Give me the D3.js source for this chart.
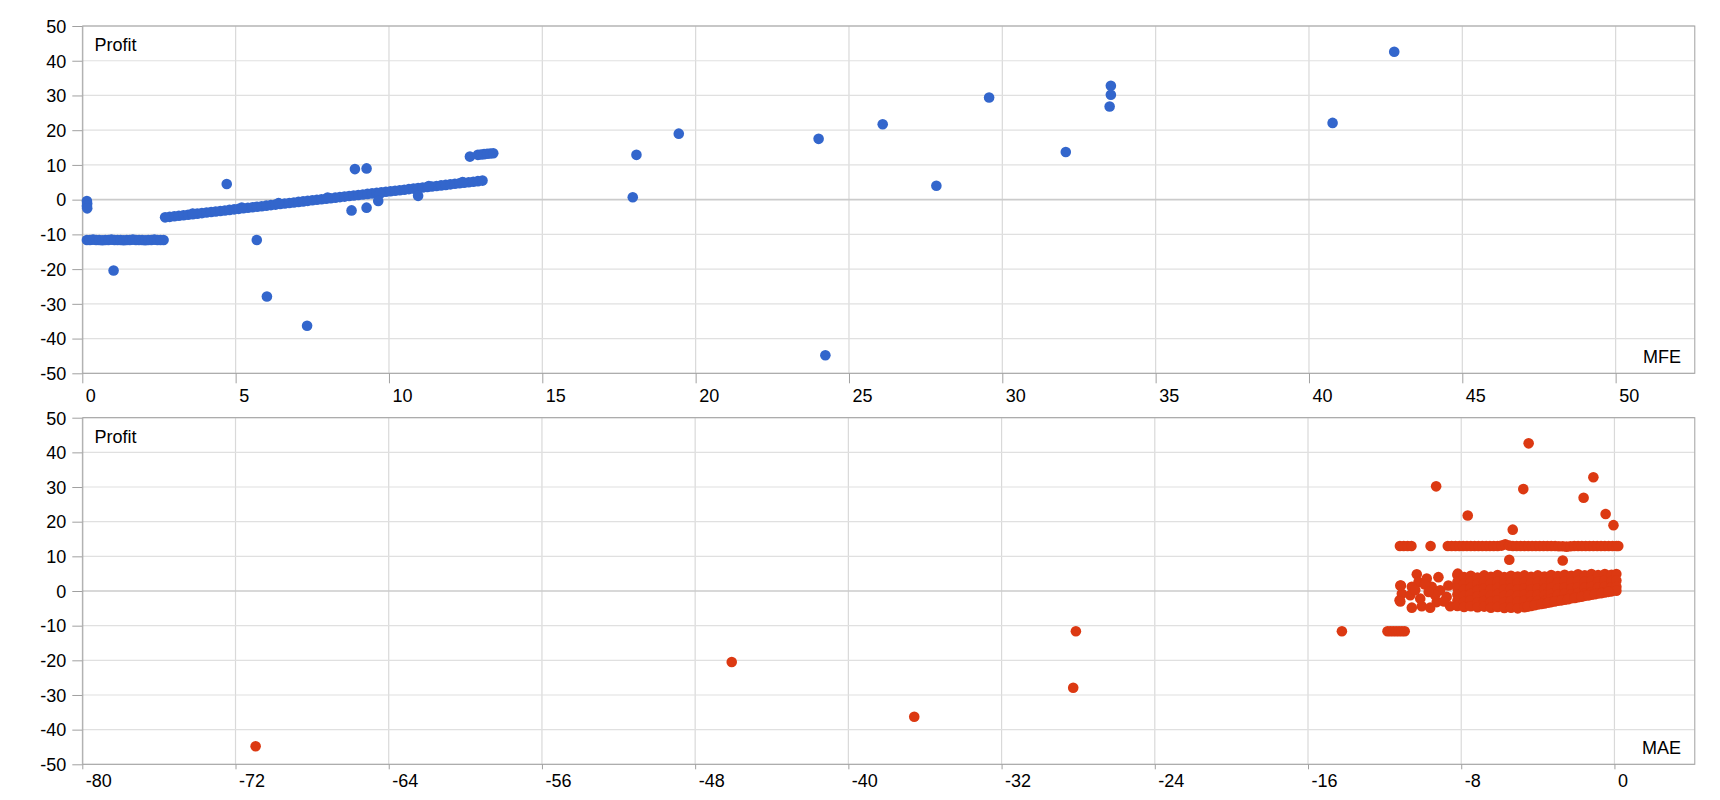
<!DOCTYPE html>
<html>
<head>
<meta charset="utf-8">
<script src="https://cdn.jsdelivr.net/npm/d3@7"></script>
<style>
  body { margin: 0; background: #fff; }
  .mfe-mae svg { display: block; }
  .mfe-mae text { font-family: "Liberation Sans", Arial, sans-serif; font-size: 18px; fill: #000; }
</style>
</head>
<body>
<div class="mfe-mae"></div>
<script>
'use strict';

var profitTicks = [-50, -40, -30, -20, -10, 0, 10, 20, 30, 40, 50];
var mfeTicks = [0, 5, 10, 15, 20, 25, 30, 35, 40, 45, 50];
var maeTicks = [-80, -72, -64, -56, -48, -40, -32, -24, -16, -8, 0];

// MFE vs profit (blue)
var mfeStopOuts = [[0.15, -11.6], [0.25, -11.6], [0.35, -11.5], [0.45, -11.6], [0.55, -11.6], [0.65, -11.7],
  [0.75, -11.6], [0.85, -11.6], [0.95, -11.5], [1.05, -11.6], [1.15, -11.6], [1.25, -11.6], [1.35, -11.7],
  [1.45, -11.6], [1.55, -11.6], [1.65, -11.5], [1.75, -11.6], [1.85, -11.6], [1.95, -11.6], [2.05, -11.7],
  [2.15, -11.6], [2.25, -11.6], [2.35, -11.5], [2.45, -11.6], [2.55, -11.6], [2.65, -11.6]];
var mfeNearEntry = [[0.15, -0.4], [0.16, -1.1], [0.15, -1.8], [0.16, -2.5]];
var mfeTrailing = [[2.70, -5.10], [2.85, -4.95], [3.00, -4.79], [3.15, -4.64], [3.30, -4.49], [3.45, -4.33],
  [3.60, -4.18], [3.75, -4.03], [3.90, -3.87], [4.05, -3.72], [4.20, -3.57], [4.35, -3.41], [4.50, -3.26],
  [4.65, -3.11], [4.80, -2.95], [4.95, -2.80], [5.10, -2.65], [5.25, -2.49], [5.40, -2.34], [5.55, -2.19],
  [5.70, -2.03], [5.85, -1.88], [6.00, -1.73], [6.15, -1.57], [6.30, -1.42], [6.45, -1.27], [6.60, -1.11],
  [6.75, -0.96], [6.90, -0.81], [7.05, -0.65], [7.20, -0.50], [7.35, -0.35], [7.50, -0.19], [7.65, -0.04],
  [7.80, 0.11], [7.95, 0.27], [8.10, 0.42], [8.25, 0.57], [8.40, 0.73], [8.55, 0.88], [8.70, 1.03],
  [8.85, 1.19], [9.00, 1.34], [9.15, 1.49], [9.30, 1.65], [9.45, 1.80], [9.60, 1.95], [9.75, 2.11],
  [9.90, 2.26], [10.05, 2.41], [10.20, 2.57], [10.35, 2.72], [10.50, 2.87], [10.65, 3.03], [10.80, 3.18],
  [10.95, 3.33], [11.10, 3.48], [11.25, 3.64], [11.40, 3.79], [11.55, 3.94], [11.70, 4.10], [11.85, 4.25],
  [12.00, 4.40], [12.15, 4.56], [12.30, 4.71], [12.45, 4.86], [12.60, 5.02], [12.75, 5.17], [12.90, 5.32],
  [13.05, 5.48], [3.60, -4.0], [5.20, -2.3], [6.40, -1.0], [8.00, 0.6], [9.70, 1.7], [11.30, 3.9], [12.40, 5.1]];
var mfeTargets = [[12.64, 12.4], [12.9, 12.9], [13.0, 13.0], [13.1, 13.1], [13.2, 13.2], [13.3, 13.3], [13.4, 13.35]];
var mfeOutliers = [[1.02, -20.4], [4.71, 4.5], [5.69, -11.6], [6.02, -27.9], [7.33, -36.3], [8.89, 8.8],
  [9.27, 9.0], [8.78, -3.1], [9.27, -2.3], [9.65, -0.4], [10.95, 1.1], [17.95, 0.7], [18.07, 12.9],
  [19.45, 19.0], [24.01, 17.5], [24.23, -44.8], [26.1, 21.7], [27.85, 4.0], [29.57, 29.4], [32.07, 13.7],
  [33.54, 32.8], [33.54, 30.2], [33.5, 26.8], [40.77, 22.1], [42.78, 42.6]];

// MAE vs profit (red)
var maeStopOuts = [[-11.85, -11.6], [-11.7, -11.6], [-11.55, -11.6], [-11.4, -11.6], [-11.25, -11.6],
  [-11.1, -11.6], [-10.95, -11.6], [-14.23, -11.6], [-28.12, -11.6]];
var maeTargets = [[-11.2, 13.0], [-11.0, 13.0], [-10.8, 13.0], [-10.6, 13.0], [-9.6, 13.0],
  [-8.7, 13.0], [-8.5, 13.0], [-8.3, 13.0], [-8.1, 13.0], [-7.9, 13.0], [-7.7, 13.0], [-7.5, 13.0],
  [-7.3, 13.0], [-7.1, 13.0], [-6.9, 13.0], [-6.7, 13.0], [-6.5, 13.0], [-6.3, 13.0], [-6.1, 13.0],
  [-5.9, 13.1], [-5.7, 13.5], [-5.5, 13.1], [-5.3, 13.0], [-5.1, 13.0], [-4.9, 13.0], [-4.7, 13.0],
  [-4.5, 13.0], [-4.3, 13.0], [-4.1, 13.0], [-3.9, 13.0], [-3.7, 13.0], [-3.5, 13.0], [-3.3, 13.0],
  [-3.1, 13.0], [-2.9, 12.9], [-2.7, 12.9], [-2.5, 12.8], [-2.3, 12.9], [-2.1, 13.0], [-1.9, 13.0],
  [-1.7, 13.0], [-1.5, 13.0], [-1.3, 13.0], [-1.1, 13.0], [-0.9, 13.0], [-0.7, 13.0], [-0.5, 13.0],
  [-0.3, 13.0], [-0.1, 13.0], [0.1, 13.0], [0.2, 13.0]];
var maeScattered = [[-11.15, 1.6], [-11.1, -0.8], [-11.22, -2.7], [-10.32, 4.8], [-10.23, 2.6], [-10.58, 1.2],
  [-10.66, -1.2], [-10.58, -4.8], [-10.06, -4.4], [-10.14, -2.2], [-9.8, 3.6], [-9.54, 1.2], [-9.28, -3.2],
  [-9.62, -4.8], [-9.19, 4.0], [-9.1, 0.2], [-9.36, -1.2], [-8.67, 1.6], [-8.76, -1.7], [-8.58, -4.4],
  [-8.18, 5.0], [-10.4, 0.3], [-9.9, 1.9], [-8.9, -3.0], [-9.7, -0.3]];
var maeCluster = [
  [-8.20, 4.6], [-8.20, 2.6], [-8.20, 0.8], [-8.20, -1.0], [-8.20, -2.8], [-8.20, -4.3],
  [-7.85, 4.0], [-7.85, 2.2], [-7.85, 0.4], [-7.85, -1.4], [-7.85, -3.2], [-7.85, -4.6],
  [-7.50, 4.4], [-7.50, 2.7], [-7.50, 0.9], [-7.50, -0.9], [-7.50, -2.7], [-7.50, -4.4],
  [-7.15, 3.9], [-7.15, 2.1], [-7.15, 0.3], [-7.15, -1.5], [-7.15, -3.3], [-7.15, -4.7],
  [-6.80, 4.5], [-6.80, 2.6], [-6.80, 0.8], [-6.80, -1.0], [-6.80, -2.9], [-6.80, -4.5],
  [-6.45, 4.1], [-6.45, 2.3], [-6.45, 0.5], [-6.45, -1.3], [-6.45, -3.1], [-6.45, -4.8],
  [-6.10, 4.6], [-6.10, 2.7], [-6.10, 0.9], [-6.10, -0.9], [-6.10, -2.7], [-6.10, -4.6],
  [-5.75, 4.0], [-5.75, 2.2], [-5.75, 0.4], [-5.75, -1.4], [-5.75, -3.2], [-5.75, -4.9],
  [-5.40, 4.4], [-5.40, 2.5], [-5.40, 0.7], [-5.40, -1.1], [-5.40, -2.9], [-5.40, -4.8],
  [-5.05, 4.2], [-5.05, 2.3], [-5.05, 0.5], [-5.05, -1.3], [-5.05, -3.1], [-5.05, -5.0],
  [-4.70, 4.5], [-4.70, 2.6], [-4.70, 0.8], [-4.70, -1.0], [-4.70, -2.8], [-4.70, -4.7],
  [-4.35, 4.1], [-4.35, 2.3], [-4.35, 0.5], [-4.35, -1.3], [-4.35, -3.1], [-4.35, -4.3],
  [-4.00, 4.5], [-4.00, 2.6], [-4.00, 0.8], [-4.00, -1.0], [-4.00, -2.8], [-4.00, -3.9],
  [-3.65, 4.2], [-3.65, 2.4], [-3.65, 0.6], [-3.65, -1.2], [-3.65, -2.9], [-3.65, -3.6],
  [-3.30, 4.6], [-3.30, 2.7], [-3.30, 0.9], [-3.30, -0.9], [-3.30, -2.3], [-3.30, -3.2],
  [-2.95, 4.3], [-2.95, 2.5], [-2.95, 0.7], [-2.95, -1.1], [-2.95, -2.8],
  [-2.60, 4.7], [-2.60, 2.8], [-2.60, 1.0], [-2.60, -0.8], [-2.60, -2.5],
  [-2.25, 4.4], [-2.25, 2.6], [-2.25, 0.8], [-2.25, -1.0], [-2.25, -2.1],
  [-1.90, 4.8], [-1.90, 2.9], [-1.90, 1.1], [-1.90, -0.6], [-1.90, -1.8],
  [-1.55, 4.5], [-1.55, 2.7], [-1.55, 0.9], [-1.55, -0.8], [-1.55, -1.4],
  [-1.20, 4.9], [-1.20, 3.0], [-1.20, 1.2], [-1.20, -0.4], [-1.20, -1.1],
  [-0.85, 4.6], [-0.85, 2.8], [-0.85, 1.0], [-0.85, -0.7],
  [-0.50, 4.9], [-0.50, 3.1], [-0.50, 1.3], [-0.50, -0.4],
  [-0.15, 4.7], [-0.15, 2.9], [-0.15, 1.1], [-0.15, -0.1],
  [0.10, 4.9], [0.10, 3.0], [0.10, 1.2], [0.10, 0.1],
  [-4.52, -4.5], [-4.17, -4.1], [-3.82, -3.75], [-3.47, -3.4], [-3.12, -3.05], [-2.77, -2.7],
  [-2.42, -2.35], [-2.07, -2.0], [-1.72, -1.65], [-1.37, -1.3], [-1.02, -0.95], [-0.67, -0.6], [-0.32, -0.25]];
var maeOutliers = [[-70.95, -44.8], [-46.09, -20.5], [-36.56, -36.3], [-28.26, -27.9], [-4.48, 42.6],
  [-9.31, 30.2], [-4.76, 29.4], [-1.10, 32.8], [-1.61, 26.9], [-0.46, 22.2], [-7.66, 21.8], [-5.31, 17.7],
  [-0.05, 19.0], [-5.49, 9.0], [-2.7, 8.8], [-11.18, -3.0], [-11.18, 1.6]];

var width = 1720,
    height = 800,
    plotLeft = 82.3,
    plotRight = 1694.3,
    svg = d3.select('.mfe-mae').append('svg').attr('width', width).attr('height', height);

function drawPanel(p) {
  var x = d3.scaleLinear().domain(p.xDomain).range([plotLeft, plotRight]),
      y = d3.scaleLinear().domain([-50, 50]).range([p.bottom, p.top]),
      g = svg.append('g').attr('class', p.name),
      points = [].concat.apply([], p.series);

  // gridlines
  g.append('g').selectAll('line').data(p.xTicks).enter().append('line')
    .attr('x1', function (d) { return x(d); }).attr('x2', function (d) { return x(d); })
    .attr('y1', p.top).attr('y2', p.bottom)
    .attr('stroke', '#d9d9d9').attr('stroke-width', 1.2);

  g.append('g').selectAll('line').data(profitTicks).enter().append('line')
    .attr('x1', plotLeft).attr('x2', plotRight)
    .attr('y1', function (d) { return y(d); }).attr('y2', function (d) { return y(d); })
    .attr('stroke', function (d) { return d === 0 ? '#cbcbcb' : '#e0e0e0'; })
    .attr('stroke-width', function (d) { return d === 0 ? 1.6 : 1.2; });

  // axes
  var yAxis = g.append('g').attr('transform', 'translate(' + plotLeft + ',0)')
    .call(d3.axisLeft(y).tickValues(profitTicks).tickSize(10).tickPadding(6)
      .tickFormat(function (d) { return String(d); }));
  var xAxis = g.append('g').attr('transform', 'translate(0,' + p.bottom + ')')
    .call(d3.axisBottom(x).tickValues(p.xTicks).tickSize(p.xTickLen)
      .tickFormat(function (d) { return String(d); }));

  [yAxis, xAxis].forEach(function (a) {
    a.attr('font-size', null).attr('font-family', null);
    a.select('.domain').remove();
    a.selectAll('.tick line').attr('stroke', '#a0a0a0');
  });
  yAxis.selectAll('.tick text').attr('dy', '0.35em');
  xAxis.selectAll('.tick text').attr('text-anchor', 'start').attr('x', 3)
    .attr('dy', null).attr('y', p.labelY);

  g.append('rect').attr('x', plotLeft + 0.5).attr('y', p.top).attr('width', plotRight - plotLeft)
    .attr('height', p.bottom - p.top).attr('fill', 'none').attr('stroke', '#a0a0a0');

  g.append('text').attr('x', 94.5).attr('y', p.top + 24.8).text('Profit');
  g.append('text').attr('x', 1681).attr('y', p.bottom - 10.5).attr('text-anchor', 'end').text(p.xTitle);

  g.append('g').selectAll('circle').data(points).enter().append('circle')
    .attr('cx', function (d) { return x(d[0]); })
    .attr('cy', function (d) { return y(d[1]); })
    .attr('r', 5.3)
    .attr('fill', p.color);
}

drawPanel({
  name: 'mfe', top: 26, bottom: 373.3, xDomain: [0, 52.565], xTicks: mfeTicks, xTickLen: 10, labelY: 29,
  xTitle: 'MFE', color: '#3366cc',
  series: [mfeStopOuts, mfeNearEntry, mfeTrailing, mfeTargets, mfeOutliers]
});
drawPanel({
  name: 'mae', top: 417.7, bottom: 764.3, xDomain: [-80, 4.17], xTicks: maeTicks, xTickLen: 5, labelY: 23,
  xTitle: 'MAE', color: '#dc3912',
  series: [maeStopOuts, maeTargets, maeScattered, maeCluster, maeOutliers]
});
</script>
</body>
</html>
